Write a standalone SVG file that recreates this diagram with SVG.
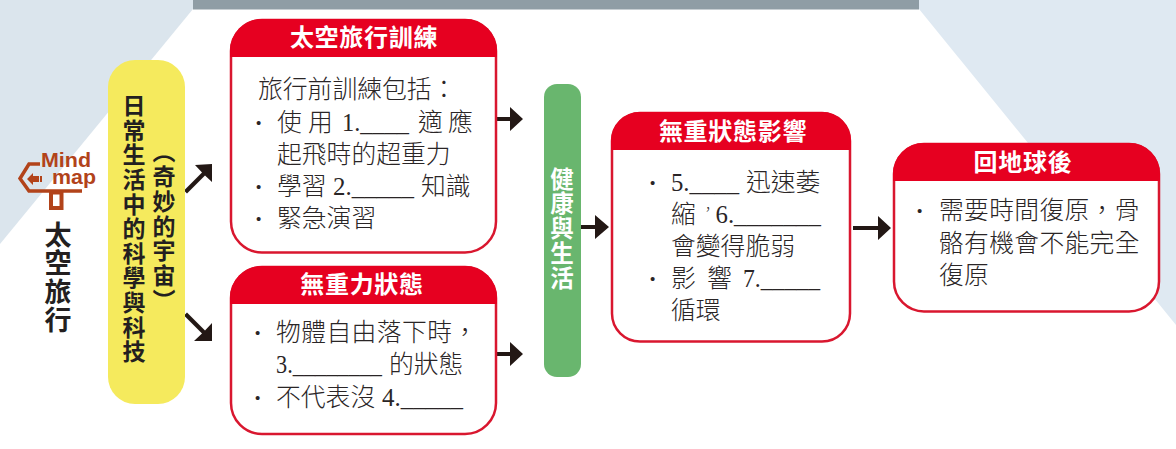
<svg xmlns="http://www.w3.org/2000/svg" width="1176" height="449" viewBox="0 0 1176 449">
<style>
.b{font-family:"Liberation Serif","Noto Sans CJK TC",serif;font-size:24.8px;font-weight:300;fill:#2a2526}
.d{font-family:"Liberation Serif",serif;font-size:24.8px;font-weight:700;fill:#2a2526}
.h{font-family:"Noto Sans CJK TC",sans-serif;font-size:24px;font-weight:700;fill:#fff;text-anchor:middle}
.v{font-family:"Noto Sans CJK TC",sans-serif;font-weight:700;fill:#231f20;writing-mode:vertical-rl}
.m{font-family:"Liberation Sans",sans-serif;font-weight:700;font-size:21px;fill:#b2431a}
.box{fill:#fff;stroke:#d9172f;stroke-width:2.5}
.hd{fill:#e60020}
.c{fill:#231815;stroke:none}
</style>
<defs>
<clipPath id="c1"><rect x="230" y="19" width="267" height="38"/></clipPath>
<clipPath id="c2"><rect x="230" y="266" width="267" height="38"/></clipPath>
<clipPath id="c3"><rect x="611" y="112" width="240" height="38"/></clipPath>
<clipPath id="c4"><rect x="893" y="143" width="267" height="38"/></clipPath>
</defs>
<g id="background">
<polygon points="0,0 193,0 193,9 0,244" fill="#dbe5ed"/>
<polygon points="919,0 1176,0 1176,325 919,9" fill="#dfe9f2"/>
<rect x="193" y="0" width="726" height="9.500" fill="#8f9da5"/>
</g>
<g id="connectors">
<path class="c" d="M184,190.500L202,172.500L195,165L212,164L212,182L205,175.500L187,193.500Z"/>
<path class="c" d="M187,312.500L205,330.500L212,323L212,341L194,341L202,333.500L184,315.500Z"/>
<path class="c" d="M497,117H510V107L523,119L510,131V121H497Z"/>
<path class="c" d="M497,352H510V342L523,354L510,366V356H497Z"/>
<path class="c" d="M581,225H595V215L609,227L595,239V229H581Z"/>
<path class="c" d="M853,226H878V216L891,228L878,240V230H853Z"/>
</g>
<g id="mindmap">
<text class="m" x="41" y="167" textLength="50" lengthAdjust="spacingAndGlyphs">Mind</text>
<text class="m" x="52" y="184" textLength="44" lengthAdjust="spacingAndGlyphs">map</text>
<path d="M40,164H29L20,178.500L29,191H82" fill="none" stroke="#b2431a" stroke-width="3.500"/>
<path d="M27,179L33,173V176H39V182H33V185ZM40,176H42V182H40Z" fill="#b2431a"/>
<rect x="51" y="192.500" width="10.500" height="15.500" fill="none" stroke="#b2431a" stroke-width="4"/>
<text class="v" x="58" y="221" style="font-size:27px;letter-spacing:1.500px">太空旅行</text>
</g>
<g id="topic">
<rect x="108" y="60" width="77" height="344" rx="27" fill="#f5ea5d"/>
<text class="v" x="134" y="94" style="font-size:23px;letter-spacing:1.600px">日常生活中的科學與科技</text>
<text class="v" x="164" y="140" style="font-size:23px;letter-spacing:1.800px">（奇妙的宇宙）</text>
</g>
<g id="training">
<rect class="box" x="231" y="20" width="265" height="232.500" rx="31"/>
<rect class="hd" x="230" y="19" width="267" height="80" rx="32" clip-path="url(#c1)"/>
<text class="h" x="364" y="46" style="letter-spacing:.7px">太空旅行訓練</text>
<text class="b" x="258" y="98">旅行前訓練包括：</text>
<text class="d" x="254.500" y="131">·</text><text class="b" x="277" y="131">使</text><text class="b" x="308" y="131">用</text>
<text class="b" x="342" y="131" textLength="67" lengthAdjust="spacingAndGlyphs">1.____</text>
<text class="b" x="418" y="131">適</text><text class="b" x="448" y="131">應</text>
<text class="b" x="277" y="163">起飛時的超重力</text>
<text class="d" x="254.500" y="195">·</text><text class="b" x="277" y="195">學習</text>
<text class="b" x="333" y="195" textLength="81" lengthAdjust="spacingAndGlyphs">2._____</text>
<text class="b" x="421" y="195">知識</text>
<text class="d" x="254.500" y="227">·</text><text class="b" x="277" y="227">緊急演習</text>
</g>
<g id="weightless">
<rect class="box" x="231" y="267" width="265" height="167" rx="31"/>
<rect class="hd" x="230" y="266" width="267" height="80" rx="32" clip-path="url(#c2)"/>
<text class="h" x="362" y="293" style="letter-spacing:.7px">無重力狀態</text>
<text class="d" x="253.500" y="341">·</text><text class="b" x="276" y="341" style="letter-spacing:.4px">物體自由落下時，</text>
<text class="b" x="276" y="373" textLength="106" lengthAdjust="spacingAndGlyphs">3.________</text>
<text class="b" x="389" y="373">的狀態</text>
<text class="d" x="253.500" y="406">·</text><text class="b" x="276" y="406">不代表沒</text>
<text class="b" x="382" y="406" textLength="81" lengthAdjust="spacingAndGlyphs">4._____</text>
</g>
<g id="health">
<rect x="544" y="84" width="37" height="293" rx="13" fill="#69b66e"/>
<text class="v" x="562" y="167" style="font-size:23.500px;letter-spacing:1.300px;fill:#fff">健康與生活</text>
</g>
<g id="effects">
<rect class="box" x="612" y="113" width="238" height="228.500" rx="28"/>
<rect class="hd" x="611" y="112" width="240" height="80" rx="29" clip-path="url(#c3)"/>
<text class="h" x="733" y="140" style="letter-spacing:.7px">無重狀態影響</text>
<text class="d" x="648.500" y="191">·</text>
<text class="b" x="671" y="191" textLength="68" lengthAdjust="spacingAndGlyphs">5.____</text>
<text class="b" x="746" y="191">迅速萎</text>
<text class="b" x="671" y="223">縮</text>
<text class="b" x="701" y="214" style="font-size:14px">，</text>
<text class="b" x="715.500" y="223">6._______</text>
<text class="b" x="671" y="255">會變得脆弱</text>
<text class="d" x="648.500" y="287">·</text><text class="b" x="671" y="287">影</text><text class="b" x="707" y="287">響</text>
<text class="b" x="743" y="287" textLength="77" lengthAdjust="spacingAndGlyphs">7._____</text>
<text class="b" x="671" y="319">循環</text>
</g>
<g id="return">
<rect class="box" x="894" y="144" width="265" height="167.500" rx="30"/>
<rect class="hd" x="893" y="143" width="267" height="80" rx="31" clip-path="url(#c4)"/>
<text class="h" x="1023" y="171" style="letter-spacing:.7px">回地球後</text>
<text class="d" x="915.500" y="219">·</text>
<text class="b" x="939" y="219" style="letter-spacing:.3px">需要時間復原，骨</text>
<text class="b" x="939" y="252" style="letter-spacing:.3px">骼有機會不能完全</text>
<text class="b" x="939" y="284" style="letter-spacing:.3px">復原</text>
</g>
</svg>
